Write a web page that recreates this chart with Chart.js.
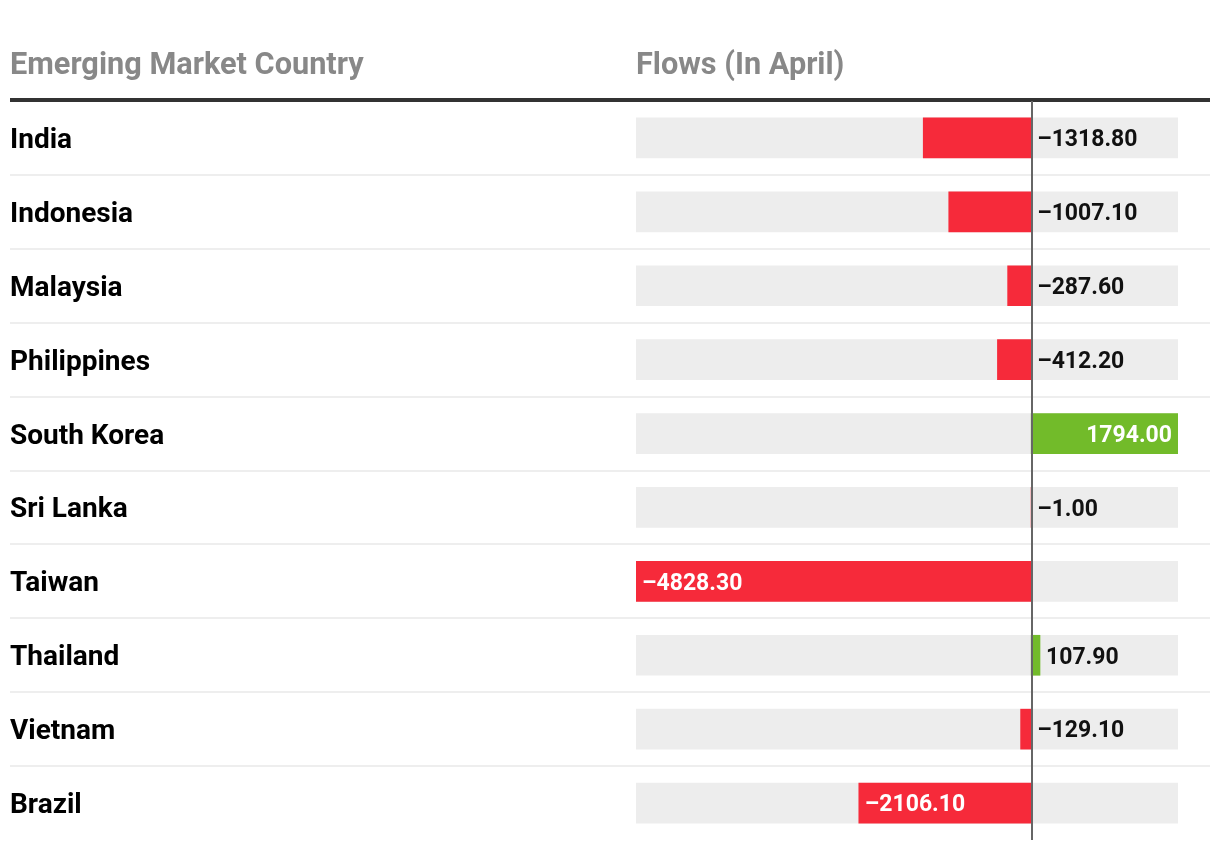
<!DOCTYPE html>
<html>
<head>
<meta charset="utf-8">
<title>Emerging Market Flows</title>
<script src="https://cdn.jsdelivr.net/npm/chart.js@4/dist/chart.umd.min.js"></script>
<style>
  html, body { margin: 0; padding: 0; background: #fff; }
  #wrap { width: 1220px; height: 850px; }
</style>
</head>
<body>
<div id="wrap"><canvas id="flowsChart" width="1220" height="850"></canvas></div>
<script>
// data
const countries = ['India', 'Indonesia', 'Malaysia', 'Philippines', 'South Korea',
                   'Sri Lanka', 'Taiwan', 'Thailand', 'Vietnam', 'Brazil'];
const flows = [-1318.8, -1007.1, -287.6, -412.2, 1794.0, -1.0, -4828.3, 107.9, -129.1, -2106.1];
const headers = ['Emerging Market Country', 'Flows (In April)'];

const RED = '#f62a3a';
const GREEN = '#72bb2a';
const TRACK = '#ededed';
const FONT = 'Roboto, "Noto Sans", sans-serif';

const minVal = Math.min(...flows);
const maxVal = Math.max(...flows);

function fmt(v) {
    const s = Math.abs(v).toFixed(2);
    return v < 0 ? '\u2013' + s : s;
}

// header, row rules, zero line and value labels
const tablePlugin = {
    id: 'tablePlugin',
    beforeDatasetsDraw(chart) {
        const { ctx, chartArea } = chart;
        const y = chart.scales.y;
        ctx.save();
        // header text
        ctx.font = `bold 30.7px ${FONT}`;
        ctx.fillStyle = '#888888';
        ctx.textBaseline = 'alphabetic';
        ctx.textAlign = 'left';
        ctx.fillText(headers[0], 10, 74);
        ctx.fillText(headers[1], chartArea.left, 74);
        // thick header rule
        ctx.fillStyle = '#333333';
        ctx.fillRect(10, 98, 1200, 4);
        // thin row separators
        ctx.fillStyle = '#eeeeee';
        const step = (y.getPixelForValue(1) - y.getPixelForValue(0));
        for (let i = 0; i < countries.length - 1; i++) {
            const yy = y.getPixelForValue(i) + step / 2;
            ctx.fillRect(10, Math.round(yy) - 1, 1200, 2);
        }
        ctx.restore();
    },
    afterDatasetsDraw(chart) {
        const { ctx, chartArea } = chart;
        const x0 = chart.scales.x.getPixelForValue(0);
        ctx.save();
        // zero line
        ctx.fillStyle = '#666666';
        ctx.fillRect(Math.round(x0), chartArea.top, 2, chartArea.bottom - chartArea.top);

        // value labels
        ctx.font = `bold 23px ${FONT}`;
        ctx.textBaseline = 'middle';
        const meta = chart.getDatasetMeta(0);
        meta.data.forEach((bar, i) => {
            const v = flows[i];
            const txt = fmt(v);
            const w = ctx.measureText(txt).width;
            const left = Math.min(bar.x, bar.base);
            const right = Math.max(bar.x, bar.base);
            const pad = 6;
            const ty = bar.y + 2.5;
            if (right - left > w + pad * 2) {
                ctx.fillStyle = '#ffffff';
                if (v < 0) {
                    ctx.textAlign = 'left';
                    ctx.fillText(txt, left + pad, ty);
                } else {
                    ctx.textAlign = 'right';
                    ctx.fillText(txt, right - pad, ty);
                }
            } else {
                ctx.fillStyle = '#111111';
                ctx.textAlign = 'left';
                ctx.fillText(txt, Math.max(right, x0) + pad, ty);
            }
        });
        ctx.restore();
    }
};

new Chart(document.getElementById('flowsChart'), {
    type: 'bar',
    data: {
        labels: countries,
        datasets: [
            {
                label: 'Flows',
                data: flows,
                backgroundColor: flows.map(v => v < 0 ? RED : GREEN),
                barThickness: 40,
                grouped: false,
                borderWidth: 0
            },
            {
                label: 'Track',
                data: countries.map(() => [minVal, maxVal]),
                backgroundColor: TRACK,
                barThickness: 40,
                grouped: false,
                borderWidth: 0
            }
        ]
    },
    options: {
        indexAxis: 'y',
        responsive: false,
        animation: false,
        layout: {
            padding: { top: 101, bottom: 9, left: 10, right: 42 }
        },
        scales: {
            x: {
                display: false,
                min: minVal,
                max: maxVal
            },
            y: {
                grid: { display: false },
                border: { display: false },
                ticks: {
                    autoSkip: false,
                    crossAlign: 'far',
                    labelOffset: 3,
                    color: '#000000',
                    font: { family: FONT, size: 28, weight: 'bold', lineHeight: 0.5 }
                },
                afterFit(scale) {
                    scale.width = 626;
                }
            }
        },
        plugins: {
            legend: { display: false },
            tooltip: { enabled: false }
        }
    },
    plugins: [tablePlugin]
});
</script>
</body>
</html>
